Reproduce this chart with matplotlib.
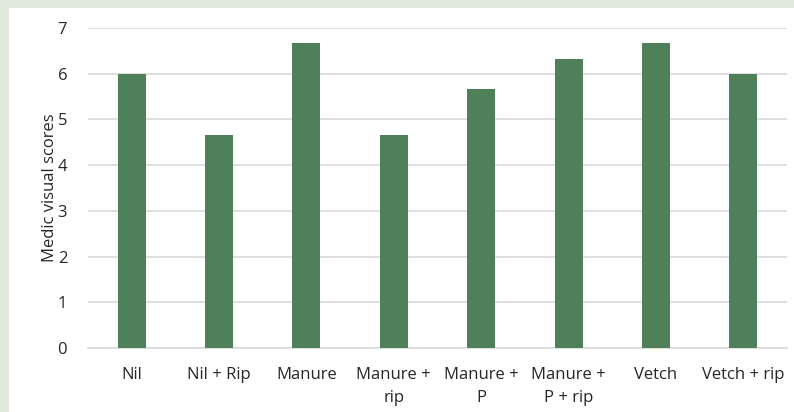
import matplotlib
matplotlib.use("Agg")
import matplotlib.pyplot as plt
from matplotlib.patches import Rectangle
import numpy as np

treatments = [
	"Nil", "Nil + Rip", "Manure", "Manure +\nrip",
	"Manure +\nP", "Manure +\nP + rip", "Vetch", "Vetch + rip",
]
scores = [6.0, 4.67, 6.67, 4.67, 5.67, 6.33, 6.67, 6.0]
y_ticks = [0, 1, 2, 3, 4, 5, 6, 7]

bar_color = "#50805a"
frame_color = "#e1e8dc"
grid_color = "#d9d9d9"
text_color = "#262626"

plt.rcParams["font.family"] = ["Open Sans", "DejaVu Sans"]

fig = plt.figure(figsize=(7.94, 4.12), dpi=100)
fig.patch.set_facecolor(frame_color)
# white chart area sitting inside the tinted frame
fig.patches.append(Rectangle((9 / 794, 0), 1, 1 - 8 / 412, transform=fig.transFigure,
	facecolor="white", edgecolor="none", zorder=-10))

ax = fig.add_axes([88 / 794, 1 - 348 / 412, 699 / 794, 320 / 412])
ax.set_facecolor("none")
positions = np.arange(len(treatments))
ax.bar(positions, scores, width=0.32, color=bar_color, zorder=3)

ax.set_xlim(-0.5, len(treatments) - 0.5)
ax.set_ylim(0, 7)
ax.set_yticks(y_ticks)
ax.set_xticks(positions)
ax.set_xticklabels(treatments, fontsize=12, color=text_color, linespacing=1.55)
ax.tick_params(axis="y", labelsize=12, labelcolor=text_color, length=0, pad=15)
ax.tick_params(axis="x", length=0, pad=14)
ax.yaxis.grid(True, color=grid_color, linewidth=1.2, zorder=0)
for side in ["top", "right", "left"]:
	ax.spines[side].set_visible(False)
ax.spines["bottom"].set_color(grid_color)
ax.spines["bottom"].set_linewidth(1.2)
ax.set_ylabel("Medic visual scores", fontsize=12, color=text_color, labelpad=0)

fig.savefig("out.png", dpi=100, facecolor=fig.get_facecolor())
